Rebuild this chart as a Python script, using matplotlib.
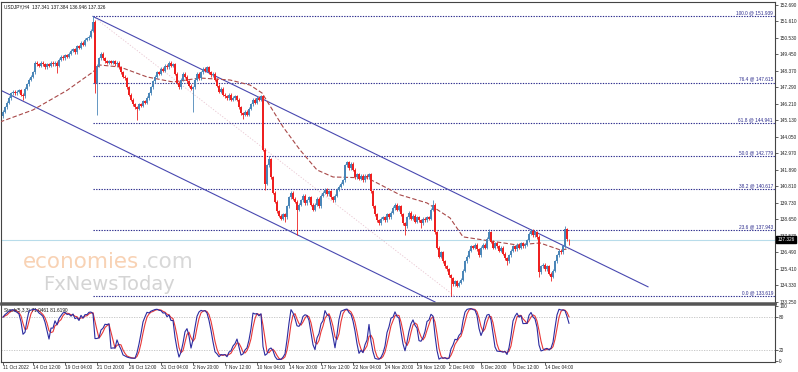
import numpy as np
import pandas as pd
import matplotlib
matplotlib.use("Agg")
import matplotlib.pyplot as plt
from matplotlib.transforms import blended_transform_factory

plt.rcParams["font.family"] = ["Liberation Sans", "DejaVu Sans"]

# ---------------- data ----------------
closes = [
    145.70, 146.00, 146.30, 146.60, 146.90, 147.00, 146.90, 147.00, 147.10, 146.80,
    146.70, 147.20, 147.50, 147.80, 148.00, 148.30, 148.90, 148.80, 148.70, 148.90,
    148.80, 148.60, 148.80, 148.70, 148.90, 148.80, 148.90, 148.70, 149.10, 149.30,
    149.20, 149.40, 149.30, 149.50, 149.70, 149.80, 149.60, 150.00, 149.90, 150.20,
    150.10, 150.40, 150.50, 150.60, 151.00, 151.60, 147.60, 148.70, 149.20, 149.50,
    149.20, 149.00, 148.90, 149.00, 148.90, 149.00, 148.80, 148.90, 148.60, 148.30,
    148.00, 147.90, 147.30, 146.80, 146.50, 146.20, 146.00, 145.90, 146.20, 146.10,
    146.40, 146.30, 146.60, 146.90, 147.30, 147.70, 148.00, 148.30, 148.20, 148.50,
    148.40, 148.70, 148.60, 148.90, 148.70, 148.80, 148.20, 147.60, 147.30, 147.80,
    148.20, 148.00, 147.70, 147.40, 147.20, 147.30, 147.80, 148.20, 147.90, 148.30,
    148.50, 148.40, 148.60, 148.30, 148.10, 148.20, 147.80, 147.40, 147.00, 147.20,
    146.80, 146.70, 146.60, 146.80, 146.50, 146.60, 146.70, 146.50, 146.00, 145.60,
    145.50, 145.70, 145.50, 145.90, 146.20, 146.50, 146.30, 146.60, 146.50, 146.70,
    143.20, 141.00, 142.20, 142.60, 141.40, 140.40, 139.80, 139.20, 138.90, 138.70,
    139.00, 138.80, 139.50, 140.10, 140.40, 140.00, 139.80, 139.30, 139.60, 139.90,
    140.20, 139.70, 139.90, 140.10, 139.60, 139.30, 139.60, 140.00, 139.50, 140.20,
    140.40, 140.60, 140.30, 140.50, 140.10, 139.90, 140.20, 140.60, 140.80, 141.00,
    141.20, 142.20, 142.40, 142.00, 142.30, 141.90, 141.40, 141.60, 141.30, 141.50,
    141.20, 141.50, 141.40, 141.60, 140.50, 139.50, 139.00, 138.60, 138.40, 138.70,
    138.80, 138.60, 139.00, 138.80, 139.10, 139.40, 139.60, 139.30, 139.50, 139.00,
    138.40, 138.20, 138.80, 139.10, 138.70, 138.90, 138.50, 138.80, 138.60, 138.40,
    138.70, 138.60, 138.80, 138.70, 139.30, 139.60, 137.80, 136.80, 136.20, 136.50,
    135.90, 135.60, 135.40, 135.00, 134.80, 134.40, 134.60, 134.30, 134.50, 134.70,
    135.30, 135.90, 136.20, 136.60, 136.90, 136.80, 137.00, 136.70, 136.30, 136.80,
    137.00, 136.80, 137.40, 137.80, 137.20, 136.80, 137.10, 136.90, 136.60, 136.80,
    136.40, 136.10, 135.90, 136.30, 136.60, 136.90, 136.70, 137.00, 136.80, 137.10,
    136.90, 137.00, 137.30, 137.70, 137.90, 137.60, 137.80, 137.50, 135.20, 135.60,
    135.70, 135.40, 135.60, 135.10, 134.90, 135.30, 135.90, 136.30, 136.60, 136.50,
    136.90, 138.00, 137.34, 137.326,
]
first_open = 145.40
last_open = 137.341
wick = 0.10
high_override = {45: 151.94, 46: 151.70, 133: 142.80, 172: 142.50, 215: 139.90,
                 243: 138.00, 264: 138.05, 281: 138.20, 282: 138.10, 283: 137.384}
low_override = {10: 146.45, 27: 148.24, 46: 146.90, 47: 145.49, 67: 145.16, 95: 145.70,
                120: 145.20, 131: 140.60, 141: 138.50, 147: 137.60, 201: 137.60,
                209: 138.10, 224: 133.619, 252: 135.70, 268: 134.90, 274: 134.60,
                283: 136.946}

fib_levels = ["100.0", "76.4", "61.8", "50.0", "38.2", "23.6", "0.0"]
fib_prices = [151.939, 147.615, 144.941, 142.779, 140.617, 137.943, 133.619]
fib_start = 45

ma_idx = [-1.5, 15, 32, 45, 48.5, 58.5, 72, 85, 98.5, 113.5, 123.5, 129.5, 140,
          148.5, 157, 165, 182, 187, 198.5, 212, 223.5, 230, 240, 257, 268.5, 278.5, 283]
ma_vals = [145.03, 145.82, 147.10, 148.31, 148.76, 148.63, 147.98, 147.65, 147.91,
           147.78, 147.45, 146.93, 144.71, 143.20, 141.89, 141.43, 141.37, 141.04,
           140.26, 139.73, 138.75, 137.51, 137.31, 136.98, 137.11, 136.66, 136.72]

upper_channel_idx = [45, 322.5]
upper_channel_val = [151.94, 134.24]
lower_channel_idx = [-1.5, 216]
lower_channel_val = [147.13, 133.25]
fib_trend_idx = [45, 226]
fib_trend_val = [151.94, 133.62]

price_ticks = [152.690, 151.610, 150.530, 149.450, 148.370, 147.290, 146.210, 145.130,
               144.050, 142.970, 141.890, 140.810, 139.730, 138.650, 137.570, 136.490,
               135.410, 134.330, 133.250]
stoch_ticks = [100, 80, 20, 0]

xtick_idx = [0, 15, 31, 47, 63, 79, 95, 111, 127, 143, 159, 175, 191, 207, 223, 239, 255, 271]
xtick_labels = ["11 Oct 2022", "14 Oct 12:00", "19 Oct 04:00", "21 Oct 20:00", "26 Oct 12:00",
                "31 Oct 04:00", "2 Nov 20:00", "7 Nov 12:00", "10 Nov 04:00", "14 Nov 20:00",
                "17 Nov 12:00", "22 Nov 04:00", "24 Nov 20:00", "29 Nov 12:00", "2 Dec 04:00",
                "6 Dec 20:00", "9 Dec 12:00", "14 Dec 04:00"]
current_price = 137.326
title_text = "USDJPY,H4  137.341 137.384 136.946 137.326"
stoch_text = "Stoch(5,3,3) 71.0461 81.6190"

# ---------------- build OHLC ----------------
n = len(closes)
idx = np.arange(n)
c = np.array(closes)
o = np.concatenate([[first_open], c[:-1]])
o[-1] = last_open
h = np.maximum(o, c) + wick
l = np.minimum(o, c) - wick
for k, v in high_override.items():
    h[k] = v
for k, v in low_override.items():
    l[k] = v

df = pd.DataFrame({"o": o, "h": h, "l": l, "c": c})
ll = df["l"].rolling(5, min_periods=1).min()
hh = df["h"].rolling(5, min_periods=1).max()
num = (df["c"] - ll).rolling(3, min_periods=1).sum()
den = (hh - ll).rolling(3, min_periods=1).sum()
k_line = 100 * num / den
d_line = k_line.rolling(3, min_periods=1).mean()

# ---------------- figure ----------------
W, H = 798, 372
fig = plt.figure(figsize=(W / 100, H / 100), dpi=100)
fig.patch.set_facecolor("white")

left = 1 / W
width = 774 / W
ax = fig.add_axes([left, 1 - 303 / H, width, 301 / H])
axs = fig.add_axes([left, 1 - 361.5 / H, width, 57.5 / H], sharex=ax)

UP = "#4a86b8"
DN = "#ee2020"
NAVY = "#2a2a8c"
FS = 3.4

# current price line
ax.axhline(current_price, color="#b8dcea", lw=0.8, zorder=1)

# fib levels
for lev, p in zip(fib_levels, fib_prices):
    ax.hlines(p, fib_start, 400, colors=NAVY, linestyles=(0, (1.2, 1.2)), lw=0.8, zorder=2)
    ax.text(385, p + 0.06, f"{lev} @ {p:.3f}", fontsize=FS, color=NAVY,
            ha="right", va="bottom", zorder=5)

# channels
ax.plot(upper_channel_idx, upper_channel_val, color="#4848b0", lw=0.8, zorder=2)
ax.plot(lower_channel_idx, lower_channel_val, color="#4848b0", lw=0.8, zorder=2)
ax.plot(fib_trend_idx, fib_trend_val, color="#e8c4d0", lw=0.6, ls=(0, (1.5, 2)), zorder=1)

# moving average
ax.plot(ma_idx, ma_vals, color="#a84848", lw=0.8, ls=(0, (4, 2)), zorder=3)

# candles
colors = np.where(c >= o, UP, DN)
ax.vlines(idx, l, h, colors=colors, lw=0.6, zorder=4)
body = np.where(np.abs(c - o) < 0.02, 0.02, c - o)
ax.bar(idx, body, bottom=o, width=0.75, color=colors, linewidth=0, zorder=4)

ax.set_xlim(-1, 386)
ax.set_ylim(133.18, 152.886)
ax.yaxis.tick_right()
ax.set_yticks(price_ticks)
ax.set_yticklabels([f"{t:.3f}" for t in price_ticks])
ax.tick_params(axis="y", labelsize=FS, length=2, width=0.5, pad=1.0, colors="#222222")
ax.tick_params(axis="x", bottom=False, labelbottom=False)
for s in ax.spines.values():
    s.set_color("#444444")
    s.set_linewidth(0.8)
ax.spines["bottom"].set_linewidth(1.8)
ax.spines["bottom"].set_color("#555555")

# price box
tr = blended_transform_factory(ax.transAxes, ax.transData)
ax.text(1.003, current_price, f"{current_price:.3f}", transform=tr, fontsize=FS,
        color="white", ha="left", va="center", zorder=10,
        bbox=dict(boxstyle="square,pad=0.2", fc="black", ec="black"))

ax.text(0.004, 0.992, title_text, transform=ax.transAxes, fontsize=FS,
        color="#111111", ha="left", va="top")

# watermark
fig.text(23 / W, 1 - 268 / H, "economies", fontsize=15.5, color="#f8d2b4",
         family="DejaVu Sans", ha="left", va="baseline")
fig.text(141 / W, 1 - 268 / H, ".com", fontsize=15.5, color="#d8d8d8",
         family="DejaVu Sans", ha="left", va="baseline")
fig.text(43 / W, 1 - 290 / H, "FxNewsToday", fontsize=14, color="#d4d4d4",
         family="DejaVu Sans", ha="left", va="baseline")

# stochastic
axs.axhline(80, color="#c0c0c0", lw=0.6, ls=(0, (1.5, 1.5)))
axs.axhline(20, color="#c0c0c0", lw=0.6, ls=(0, (1.5, 1.5)))
axs.plot(idx, d_line, color="#e83838", lw=0.8, zorder=3)
axs.plot(idx, k_line, color="#2c2ca0", lw=0.8, zorder=4)
axs.set_ylim(-1, 104)
axs.yaxis.tick_right()
axs.set_yticks(stoch_ticks)
axs.set_yticklabels([str(t) for t in stoch_ticks])
axs.tick_params(axis="y", labelsize=FS, length=2, width=0.5, pad=1.0, colors="#222222")
axs.set_xticks(xtick_idx)
axs.set_xticklabels(xtick_labels, ha="left")
axs.tick_params(axis="x", labelsize=FS, length=2, width=0.5, pad=0.5, colors="#222222")
for s in axs.spines.values():
    s.set_color("#444444")
    s.set_linewidth(0.8)
axs.spines["top"].set_linewidth(1.8)
axs.spines["top"].set_color("#555555")
axs.text(0.004, 0.93, stoch_text, transform=axs.transAxes, fontsize=FS,
         color="#111111", ha="left", va="top")

fig.savefig("out.png", dpi=100)
